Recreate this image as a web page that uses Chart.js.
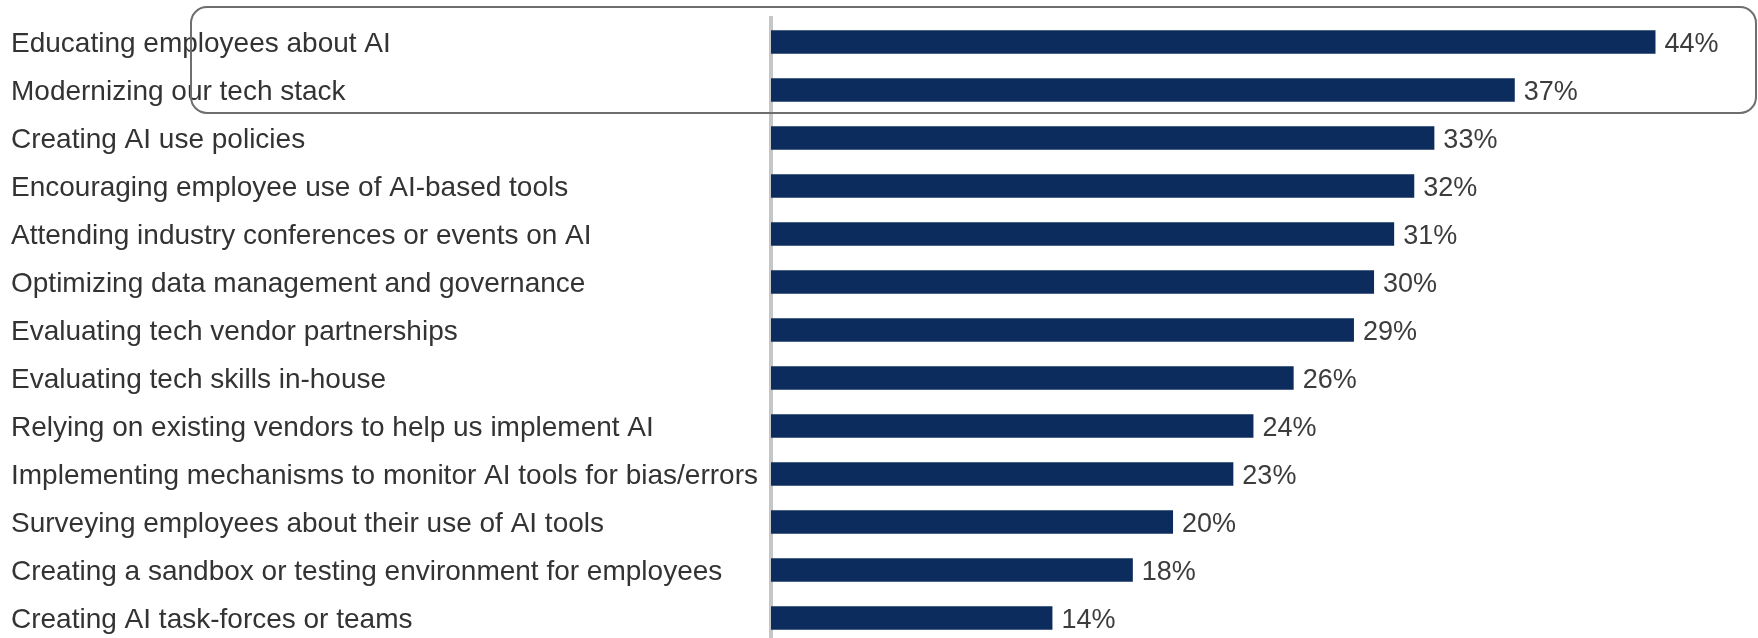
<!DOCTYPE html>
<html>
<head>
<meta charset="utf-8">
<script src="https://cdn.jsdelivr.net/npm/chart.js@4.4.1/dist/chart.umd.min.js"></script>
<style>
  html, body { margin: 0; padding: 0; background: #ffffff; overflow: hidden; }
  #wrap { width: 1758px; height: 642px; position: relative; }
</style>
</head>
<body>
<div id="wrap"><canvas id="grafico"></canvas></div>
<script>
// Categorias (de cima para baixo)
var categories = [
    "Educating employees about AI",
    "Modernizing our tech stack",
    "Creating AI use policies",
    "Encouraging employee use of AI-based tools",
    "Attending industry conferences or events on AI",
    "Optimizing data management and governance",
    "Evaluating tech vendor partnerships",
    "Evaluating tech skills in-house",
    "Relying on existing vendors to help us implement AI",
    "Implementing mechanisms to monitor AI tools for bias/errors",
    "Surveying employees about their use of AI tools",
    "Creating a sandbox or testing environment for employees",
    "Creating AI task-forces or teams"
];

// Percentuais
var values = [44, 37, 33, 32, 31, 30, 29, 26, 24, 23, 20, 18, 14];

// Rótulos de valor
var valueLabels = values.map(function (v) { return v + "%"; });

// Categorias destacadas pela caixa arredondada
var highlighted = [0, 1];

var fontFamily = "'Liberation Sans', Arial, sans-serif";

// Plugin para escrever os percentuais no fim das barras
var valueLabelPlugin = {
    id: 'valueLabels',
    afterDatasetsDraw: function (chart) {
        var ctx = chart.ctx;
        var meta = chart.getDatasetMeta(0);
        ctx.save();
        ctx.font = "27px " + fontFamily;
        ctx.fillStyle = "#3c3c3c";
        ctx.textAlign = "left";
        ctx.textBaseline = "middle";
        meta.data.forEach(function (bar, i) {
            ctx.fillText(valueLabels[i], bar.x + 9, bar.y + 3);
        });
        ctx.restore();
    }
};

// Plugin para a caixa de destaque
var highlightPlugin = {
    id: 'highlightBox',
    afterDraw: function (chart) {
        var ctx = chart.ctx;
        var y = chart.scales.y;
        var top = y.getPixelForValue(highlighted[0]) - 35;
        var bottom = y.getPixelForValue(highlighted[highlighted.length - 1]) + 23;
        var left = 191;
        var right = chart.width - 2;
        ctx.save();
        ctx.strokeStyle = "#6e6e6e";
        ctx.lineWidth = 2;
        ctx.beginPath();
        ctx.roundRect(left, top, right - left, bottom - top, 16);
        ctx.stroke();
        ctx.restore();
    }
};

var ctx = document.getElementById('grafico').getContext('2d');
var myChart = new Chart(ctx, {
    type: 'bar',
    data: {
        labels: categories,
        datasets: [{
            data: values,
            backgroundColor: '#0b2c5d',
            borderWidth: 0,
            barPercentage: 0.49,
            categoryPercentage: 1
        }]
    },
    options: {
        indexAxis: 'y',
        responsive: true,
        maintainAspectRatio: false,
        animation: false,
        layout: {
            padding: { left: 11, right: 2, top: 18, bottom: 0 }
        },
        plugins: {
            legend: { display: false },
            tooltip: { enabled: false }
        },
        scales: {
            x: {
                display: false,
                min: 0,
                max: 49
            },
            y: {
                grid: { display: false },
                border: { display: true, color: '#c6c6c6', width: 4 },
                ticks: {
                    autoSkip: false,
                    crossAlign: 'far',
                    labelOffset: 2,
                    color: '#333333',
                    font: { family: fontFamily, size: 28 }
                },
                afterFit: function (scale) {
                    scale.width = 760;
                    scale.paddingTop = 0;
                    scale.paddingBottom = 0;
                }
            }
        }
    },
    plugins: [valueLabelPlugin, highlightPlugin]
});
</script>
</body>
</html>
